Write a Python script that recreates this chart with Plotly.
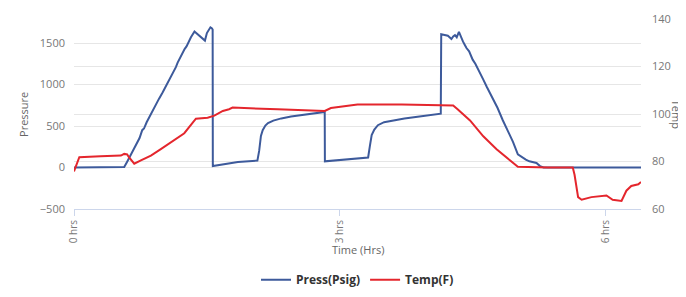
import plotly.graph_objects as go

# ---- data ----
press_hours = [0.00, 0.56, 0.567, 0.60, 0.64, 0.68, 0.70, 0.72, 0.74, 0.77, 0.79, 0.82, 0.85,
               0.87, 0.90, 0.94, 0.96, 1.00, 1.02, 1.06, 1.08, 1.10, 1.13, 1.15, 1.17, 1.20,
               1.22, 1.25, 1.27, 1.30, 1.32, 1.36, 1.395, 1.44, 1.478, 1.50, 1.516, 1.54,
               1.555, 1.565, 1.567, 1.70, 1.85, 2.07, 2.09, 2.11, 2.13, 2.16, 2.19, 2.25,
               2.34, 2.45, 2.60, 2.83, 2.832, 3.10, 3.32, 3.34, 3.36, 3.39, 3.43, 3.50,
               3.60, 3.73, 3.90, 4.14, 4.145, 4.22, 4.26, 4.28, 4.30, 4.32, 4.345, 4.37,
               4.39, 4.41, 4.43, 4.46, 4.48, 4.50, 4.53, 4.56, 4.59, 4.62, 4.66, 4.70,
               4.73, 4.78, 4.84, 4.90, 4.955, 5.01, 5.04, 5.07, 5.10, 5.14, 5.18, 5.22,
               5.26, 5.30, 6.40]
press_psig = [0, 0, 5, 70, 150, 230, 265, 300, 355, 450, 470, 545, 610,
              640, 710, 800, 830, 905, 945, 1030, 1060, 1115, 1165, 1210, 1265, 1330,
              1355, 1430, 1460, 1540, 1570, 1640, 1606, 1570, 1530, 1620, 1652, 1690,
              1680, 1664, 17, 40, 67, 83, 200, 380, 450, 505, 535, 565,
              592, 615, 638, 669, 75, 98, 121, 260, 390, 457, 510, 546,
              570, 592, 615, 649, 1606, 1588, 1549, 1580, 1595, 1570, 1634, 1560,
              1520, 1480, 1440, 1400, 1350, 1300, 1250, 1180, 1130, 1060,
              970, 890, 830, 720, 570, 440, 310, 160, 135, 113, 95, 75,
              65, 55, 17, 0, 0]

temp_hours = [0.00, 0.03, 0.06, 0.30, 0.53, 0.567, 0.60, 0.62, 0.68, 0.755, 0.868, 0.98,
              1.245, 1.376, 1.508, 1.584, 1.68, 1.75, 1.79, 2.30, 2.83, 2.90, 3.20, 3.70,
              4.15, 4.28, 4.33, 4.47, 4.62, 4.77, 4.92, 5.01, 5.35, 5.63, 5.65, 5.69,
              5.73, 5.84, 6.01, 6.08, 6.18, 6.235, 6.29, 6.37, 6.40]
temp_f = [75.8, 79.0, 81.8, 82.2, 82.5, 83.2, 83.0, 81.8, 79.1, 80.5, 82.5, 85.2,
          91.9, 98.0, 98.4, 99.3, 101.3, 102.0, 102.7, 102.0, 101.3, 102.5, 104.0, 104.0,
          103.8, 103.6, 102.0, 97.3, 90.6, 85.2, 80.5, 77.8, 77.5, 77.5, 74.4, 65.0,
          63.9, 65.0, 65.7, 63.9, 63.4, 67.7, 69.7, 70.4, 71.4]

x_tick_vals = [0, 3, 6]
x_tick_text = ["0 hrs", "3 hrs", "6 hrs"]
press_ticks = [-500, 0, 500, 1000, 1500]
temp_ticks = [60, 80, 100, 120, 140]

BLUE = "#3d5a9b"
RED = "#e4262d"
GRID = "#e6e6e6"
FONT = "Open Sans"

fig = go.Figure()
fig.add_trace(go.Scatter(x=press_hours, y=press_psig, mode="lines", name="Press(Psig)",
                         line=dict(color=BLUE, width=2), yaxis="y"))
fig.add_trace(go.Scatter(x=temp_hours, y=temp_f, mode="lines", name="Temp(F)",
                         line=dict(color=RED, width=2), yaxis="y2"))

fig.update_layout(
    width=686, height=297,
    margin=dict(l=66, r=53, t=11, b=87),
    paper_bgcolor="white", plot_bgcolor="white",
    font=dict(family=FONT, color="#666666", size=11),
    xaxis=dict(range=[0, 6.4], tickvals=x_tick_vals, ticktext=x_tick_text,
               tickangle=-90, showgrid=False, zeroline=False, showline=True,
               linecolor="#ccd6eb", linewidth=1, ticks="outside", ticklen=6,
               tickcolor="#ccd6eb", tickfont=dict(size=10, color="#777777"),
               automargin=False),
    yaxis=dict(range=[-500, 1790], tickvals=press_ticks, showgrid=True, gridcolor=GRID,
               zeroline=False, showline=False, tickfont=dict(size=11, color="#777777"),
               ticks="", ticklabelstandoff=8, automargin=False),
    yaxis2=dict(range=[60, 140], tickvals=temp_ticks, overlaying="y", side="right",
                showgrid=True, gridcolor=GRID, zeroline=False, showline=False,
                tickfont=dict(size=11, color="#777777"), ticks="",
                ticklabelstandoff=10, automargin=False),
    showlegend=True,
    legend=dict(orientation="h", x=0.5, xanchor="center", y=-0.372, yanchor="middle",
                font=dict(family=FONT, size=12, color="#333333", weight="bold"),
                itemwidth=30, bgcolor="rgba(0,0,0,0)"),
    annotations=[
        dict(text="Pressure", xref="paper", yref="paper", x=-0.09, y=0.5,
             textangle=-90, showarrow=False, xanchor="center", yanchor="middle",
             font=dict(size=11, color="#666666")),
        dict(text="Temp", xref="paper", yref="paper", x=1.064, y=0.5,
             textangle=90, showarrow=False, xanchor="center", yanchor="middle",
             font=dict(size=11, color="#666666")),
        dict(text="Time (Hrs)", xref="paper", yref="paper", x=0.5, y=-0.211,
             showarrow=False, xanchor="center", yanchor="middle",
             font=dict(size=11, color="#666666")),
    ],
)

fig.write_html("out.html")
